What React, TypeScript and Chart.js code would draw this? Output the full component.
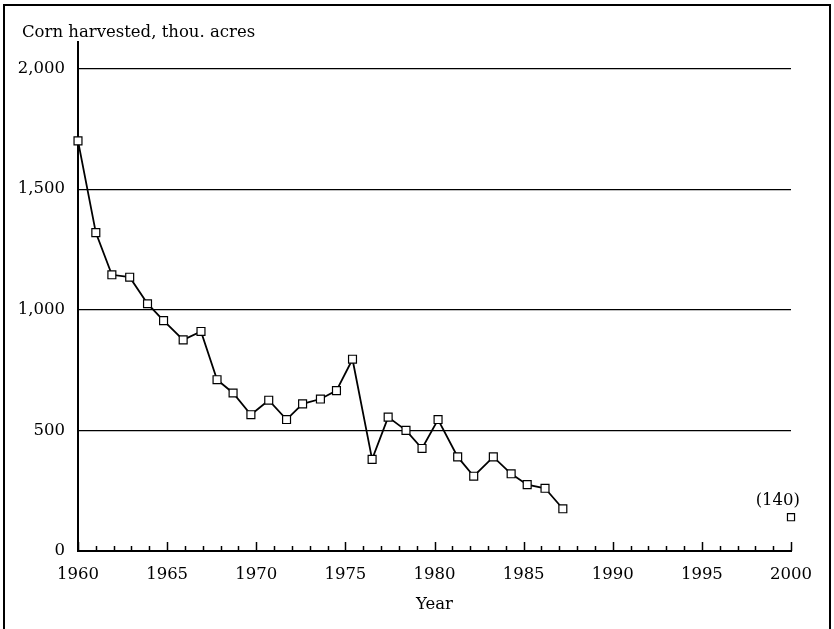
import React, { useEffect, useRef } from 'react';
import { Chart, registerables } from 'chart.js';

Chart.register(...registerables);

// ---- data ----
const yAxisTitle = 'Corn harvested, thou. acres';
const xAxisTitle = 'Year';
const years = [
  1960, 1961, 1961.9, 1962.9, 1963.9, 1964.8, 1965.9, 1966.9, 1967.8, 1968.7,
  1969.7, 1970.7, 1971.7, 1972.6, 1973.6, 1974.5, 1975.4, 1976.5, 1977.4, 1978.4,
  1979.3, 1980.2, 1981.3, 1982.2, 1983.3, 1984.3, 1985.2, 1986.2, 1987.2,
];
const acres = [
  1700, 1320, 1145, 1135, 1025, 955, 875, 910, 710, 655,
  565, 625, 545, 610, 630, 665, 795, 380, 555, 500,
  425, 545, 390, 310, 390, 320, 275, 260, 175,
];
const projectionYears = [2000];
const projectionAcres = [140];
const projectionLabels = ['(140)'];
const yTickValues = [0, 500, 1000, 1500, 2000];
const xTickValues = [1960, 1965, 1970, 1975, 1980, 1985, 1990, 1995, 2000];
const xMinorStep = 1;

const FONT = '"DejaVu Serif", serif';
const FONT_SIZE = 16.5;

const decorPlugin = {
  id: 'decor',
  afterDraw(chart: any) {
    const { ctx, chartArea, scales } = chart;
    const xs = scales.x;
    ctx.save();
    // x-axis tick marks pointing into the plot
    ctx.strokeStyle = '#000';
    ctx.lineWidth = 1.5;
    for (let yr = xs.min; yr <= xs.max; yr += xMinorStep) {
      const px = Math.round(xs.getPixelForValue(yr)) + 0.5;
      const len = xTickValues.includes(yr) ? 9 : 5;
      ctx.beginPath();
      ctx.moveTo(px, chartArea.bottom);
      ctx.lineTo(px, chartArea.bottom - len);
      ctx.stroke();
    }
    // y-axis title (horizontal, above axis)
    ctx.fillStyle = '#000';
    ctx.font = `${FONT_SIZE}px ${FONT}`;
    ctx.textAlign = 'left';
    ctx.textBaseline = 'alphabetic';
    ctx.fillText(yAxisTitle, scales.y.left + 6, 37);
    // projection label
    const meta = chart.getDatasetMeta(1);
    meta.data.forEach((pt: any, i: number) => {
      ctx.textAlign = 'right';
      ctx.textBaseline = 'middle';
      ctx.fillText(projectionLabels[i], pt.x + 9, pt.y - 17);
    });
    ctx.restore();
  },
};

export default function App() {
  const ref = useRef<HTMLCanvasElement>(null);

  useEffect(() => {
    if (!ref.current) return;
    const pointStyle = {
      pointStyle: 'rect' as const,
      pointRadius: 5.6,
      pointHoverRadius: 5.6,
      pointBackgroundColor: '#fff',
      pointBorderColor: '#000',
      pointBorderWidth: 1.2,
    };
    const chart = new Chart(ref.current, {
      type: 'line',
      data: {
        datasets: [
          {
            data: years.map((x, i) => ({ x, y: acres[i] })),
            borderColor: '#000',
            borderWidth: 1.8,
            tension: 0,
            clip: false,
            ...pointStyle,
          } as any,
          {
            data: projectionYears.map((x, i) => ({ x, y: projectionAcres[i] })),
            showLine: false,
            borderColor: '#000',
            clip: false,
            ...pointStyle,
            pointRadius: 5,
          } as any,
        ],
      },
      options: {
        responsive: false,
        animation: false,
        devicePixelRatio: 1,
        layout: { padding: { left: 16, top: 42, right: 43, bottom: 0 } },
        plugins: {
          legend: { display: false },
          tooltip: { enabled: false },
          title: { display: false },
        },
        scales: {
          x: {
            type: 'linear',
            min: 1960,
            max: 2000,
            afterBuildTicks: (s: any) => {
              s.ticks = xTickValues.map((v) => ({ value: v }));
            },
            afterFit: (s: any) => {
              s.height = 78;
            },
            grid: { display: false, drawTicks: false },
            border: { display: true, color: '#000', width: 2 },
            ticks: {
              padding: 14,
              color: '#000',
              font: { family: FONT, size: FONT_SIZE },
              maxRotation: 0,
              autoSkip: false,
              callback: (v: any) => String(v),
            },
            title: {
              display: true,
              text: xAxisTitle,
              color: '#000',
              font: { family: FONT, size: FONT_SIZE },
              padding: { top: 0, bottom: 14 },
            },
          },
          y: {
            min: 0,
            max: 2110,
            afterBuildTicks: (s: any) => {
              s.ticks = yTickValues.map((v) => ({ value: v }));
            },
            afterFit: (s: any) => {
              s.width = 62;
            },
            grid: {
              color: '#000',
              lineWidth: (c: any) => (c.tick && c.tick.value === 0 ? 0 : 1.3),
              drawTicks: false,
            },
            border: { display: true, color: '#000', width: 2 },
            ticks: {
              padding: 13,
              color: '#000',
              font: { family: FONT, size: FONT_SIZE },
              callback: (v: any) => Number(v).toLocaleString('en-US'),
            },
          },
        },
      } as any,
      plugins: [decorPlugin],
    });
    return () => chart.destroy();
  }, []);

  return (
    <div style={{ position: 'absolute', left: 0, top: 0, width: 834, height: 629, overflow: 'hidden', background: '#fff' }}>
      <canvas ref={ref} width={834} height={629} style={{ display: 'block' }} />
      <div
        style={{
          position: 'absolute',
          left: 3,
          top: 4,
          width: 828,
          height: 625,
          boxSizing: 'border-box',
          borderTop: '2px solid #000',
          borderLeft: '2px solid #000',
          borderRight: '2px solid #000',
          pointerEvents: 'none',
        }}
      />
    </div>
  );
}
